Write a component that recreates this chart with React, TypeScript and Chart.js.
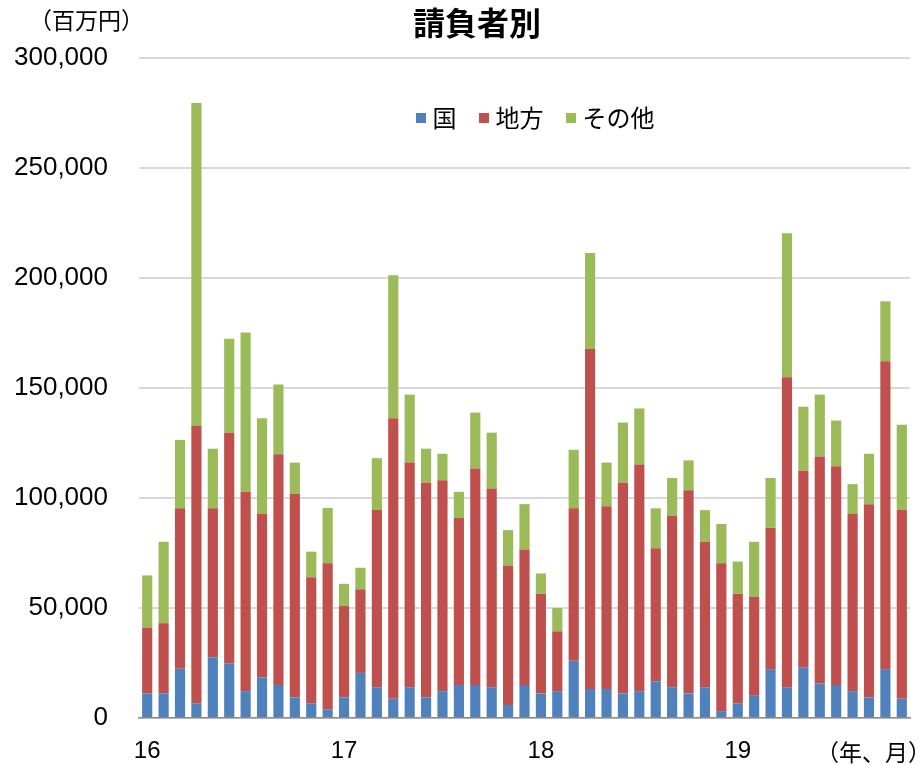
import { useEffect, useRef } from 'react';
import { Chart, registerables } from 'chart.js';

Chart.register(...registerables);

const chartTitle = '請負者別';
const yUnit = '（百万円）';
const xUnit = '（年、月）';

const months = [
  '16/1', '16/2', '16/3', '16/4', '16/5', '16/6', '16/7', '16/8', '16/9', '16/10', '16/11', '16/12',
  '17/1', '17/2', '17/3', '17/4', '17/5', '17/6', '17/7', '17/8', '17/9', '17/10', '17/11', '17/12',
  '18/1', '18/2', '18/3', '18/4', '18/5', '18/6', '18/7', '18/8', '18/9', '18/10', '18/11', '18/12',
  '19/1', '19/2', '19/3', '19/4', '19/5', '19/6', '19/7', '19/8', '19/9', '19/10', '19/11',
];

const seriesNames = ['国', '地方', 'その他'];

// 国
const kuni = [
  11200, 11200, 22400, 6700, 27600, 24800, 12200, 18500, 15000, 9400, 6700, 3900,
  9400, 20500, 14000, 8700, 14000, 9400, 12200, 15000, 15000, 14000, 5900, 15000,
  11200, 12200, 26000, 13200, 13200, 11200, 12200, 16700, 14000, 11200, 14000, 3100,
  6700, 10400, 22200, 14000, 23000, 15700, 15000, 12200, 9400, 22200, 8700,
];

// 地方
const chiho = [
  29900, 31900, 72900, 126000, 67700, 104900, 90600, 74200, 104900, 92400, 57300, 66400,
  41600, 38000, 80500, 127500, 102100, 97700, 95900, 75900, 98400, 90300, 63400, 61600,
  45300, 27200, 69300, 154500, 83100, 95900, 103000, 60500, 77900, 92300, 66100, 67200,
  49800, 44600, 64200, 140900, 89400, 103200, 99400, 80500, 87800, 140000, 85800,
];

// その他
const sonota = [
  23700, 37000, 31100, 146800, 27100, 42700, 72400, 43500, 31700, 14300, 11600, 25200,
  10000, 9800, 23600, 65000, 30900, 15300, 12000, 11900, 25400, 25400, 16100, 20600,
  9200, 10600, 26600, 43700, 19800, 27200, 25500, 18100, 17200, 13600, 14400, 17900,
  14600, 25100, 22700, 65400, 29100, 28100, 20800, 13600, 22900, 27200, 38800,
];

const seriesColors = ['#4F81BD', '#C0504D', '#9BBB59'];

const yMin = 0;
const yMax = 300000;
const yStep = 50000;

const LATIN = "'Liberation Sans', Arial, 'Noto Sans CJK JP', sans-serif";
const CJK = "'Noto Sans CJK JP', 'Liberation Sans', sans-serif";

const overlayPlugin = {
  id: 'overlayText',
  afterDraw(chart: any) {
    const ctx = chart.ctx as CanvasRenderingContext2D;
    ctx.save();
    ctx.fillStyle = '#000';
    ctx.textBaseline = 'middle';

    ctx.font = `bold 32px ${CJK}`;
    ctx.textAlign = 'center';
    ctx.fillText(chartTitle, 477, 23);

    ctx.font = `23px ${CJK}`;
    ctx.textAlign = 'left';
    ctx.fillText(yUnit, 29, 20);
    ctx.fillText(xUnit, 816, 752);

    // legend inside plot area
    ctx.font = `24px ${CJK}`;
    const sq = 10;
    const gapA = 7;
    const gapB = 22;
    const ds = chart.data.datasets;
    const widths = ds.map((d: any) => ctx.measureText(d.label).width);
    let total = 0;
    widths.forEach((w: number, i: number) => {
      total += sq + gapA + w + (i < widths.length - 1 ? gapB : 0);
    });
    let x = 535 - total / 2;
    const y = 118;
    ds.forEach((d: any, i: number) => {
      ctx.fillStyle = d.backgroundColor;
      ctx.fillRect(Math.round(x), Math.round(y - sq / 2), sq, sq);
      x += sq + gapA;
      ctx.fillStyle = '#000';
      ctx.fillText(d.label, x, y);
      x += widths[i] + gapB;
    });
    ctx.restore();
  },
};

export default function App() {
  const canvasRef = useRef<HTMLCanvasElement | null>(null);

  useEffect(() => {
    if (!canvasRef.current) return;
    const values = [kuni, chiho, sonota];
    const chart = new Chart(canvasRef.current, {
      type: 'bar',
      data: {
        labels: months,
        datasets: values.map((v, i) => ({
          label: seriesNames[i],
          data: v,
          backgroundColor: seriesColors[i],
          borderWidth: 0,
          barPercentage: 0.62,
          categoryPercentage: 1,
        })),
      },
      options: {
        animation: false,
        responsive: true,
        maintainAspectRatio: false,
        layout: { padding: { top: 58, right: 14, bottom: 0, left: 0 } },
        plugins: {
          legend: { display: false },
          title: { display: false },
          tooltip: { enabled: false },
        },
        scales: {
          x: {
            stacked: true,
            grid: { display: false, drawTicks: false },
            border: { display: true, color: '#8C8C8C', width: 1.5 },
            ticks: {
              autoSkip: false,
              maxRotation: 0,
              minRotation: 0,
              padding: 19,
              color: '#000',
              font: { family: LATIN, size: 24 },
              callback: (_v: any, idx: number) => {
                const m = months[idx];
                return m.endsWith('/1') ? m.split('/')[0] : '';
              },
            },
            afterFit: (s: any) => {
              s.height = 47;
            },
          },
          y: {
            stacked: true,
            min: yMin,
            max: yMax,
            grid: { color: '#D9D9D9', lineWidth: 2, drawTicks: false },
            border: { display: false },
            ticks: {
              stepSize: yStep,
              padding: 31,
              color: '#000',
              font: { family: LATIN, size: 26 },
              callback: (v: any) => Number(v).toLocaleString('en-US'),
            },
            afterFit: (s: any) => {
              s.width = 139;
            },
          },
        },
      },
      plugins: [overlayPlugin],
    });
    return () => chart.destroy();
  }, []);

  return (
    <div style={{ position: 'fixed', left: 0, top: 0, width: 924, height: 765, background: '#fff' }}>
      <canvas ref={canvasRef} />
    </div>
  );
}
